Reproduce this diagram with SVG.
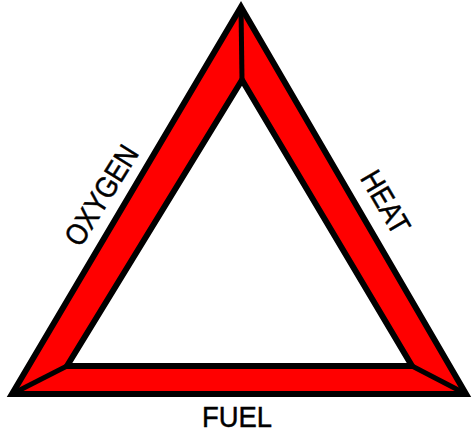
<svg xmlns="http://www.w3.org/2000/svg" width="472" height="434" viewBox="0 0 472 434">
<style>
.band{fill:#ff0000;fill-rule:evenodd;stroke:none}
.edge{fill:none;stroke:#000;stroke-width:6;stroke-linejoin:miter;stroke-miterlimit:10}
.bevel{fill:none;stroke:#000;stroke-width:5}
.lbl{font-family:"Liberation Sans",Arial,sans-serif;font-size:30px;fill:#000;stroke:#000;stroke-width:0.5}
</style>
<rect width="472" height="434" fill="#fff"/>
<g id="triangle">
<path class="band" d="M241,7 L466,394 L12,394 Z M242,80 L412,366 L67,366 Z"/>
<g id="connectors">
<line class="bevel" x1="241" y1="7" x2="242" y2="80"/>
<line class="bevel" x1="12" y1="394" x2="67" y2="366"/>
<line class="bevel" x1="466" y1="394" x2="412" y2="366"/>
</g>
<path class="edge" d="M241,7 L466,394 L12,394 Z"/>
<path class="edge" d="M242,80 L412,366 L67,366 Z"/>
</g>
<g id="oxygen">
<text class="lbl" text-anchor="middle" textLength="112" lengthAdjust="spacingAndGlyphs" transform="translate(101,195) rotate(-58)" x="0" y="10.7">OXYGEN</text>
</g>
<g id="heat">
<text class="lbl" text-anchor="middle" textLength="68" lengthAdjust="spacingAndGlyphs" transform="translate(386,202) rotate(59.6)" x="0" y="10.7">HEAT</text>
</g>
<g id="fuel">
<text class="lbl" text-anchor="middle" textLength="70" lengthAdjust="spacingAndGlyphs" x="237" y="427">FUEL</text>
</g>
</svg>
